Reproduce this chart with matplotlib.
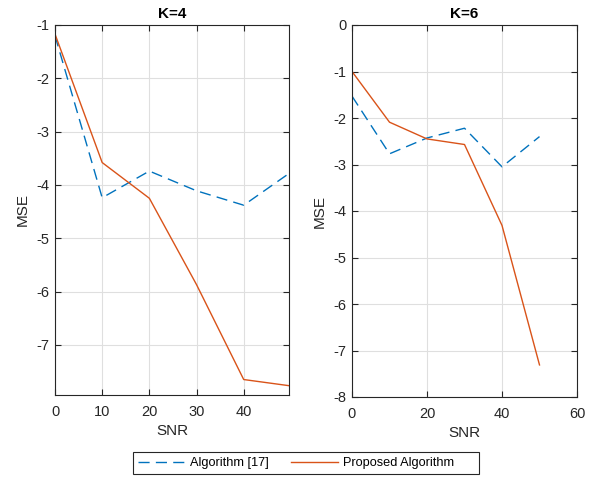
import matplotlib
matplotlib.use("Agg")
import matplotlib.pyplot as plt
from matplotlib.lines import Line2D
from matplotlib.patches import Rectangle

plt.rcParams['font.family'] = ['Liberation Sans', 'DejaVu Sans']

snr = [0, 10, 20, 30, 40, 50]
k4_alg17 = [-1.20, -4.24, -3.74, -4.11, -4.38, -3.76]
k4_prop = [-1.17, -3.58, -4.25, -5.87, -7.65, -7.77]
k6_alg17 = [-1.53, -2.77, -2.43, -2.22, -3.05, -2.40]
k6_prop = [-1.00, -2.09, -2.45, -2.57, -4.31, -7.31]

titles = ["K=4", "K=6"]
labels = ["Algorithm [17]", "Proposed Algorithm"]
blue = "#0072BD"
orange = "#D95319"
axcol = "#262626"
dash = (8, 4.5)

fig = plt.figure(figsize=(5.97, 4.80), dpi=100)
ax1 = fig.add_axes([55/597, 1-395/480, 234/597, 370/480])
ax2 = fig.add_axes([352/597, 1-397/480, 225/597, 372/480])

def style(ax, title, xticks, xlim, yticks, ylim, ytl):
    ax.set_xlim(*xlim)
    ax.set_ylim(*ylim)
    ax.set_xticks(xticks)
    ax.set_yticks(yticks)
    ax.set_yticklabels(ytl)
    ax.grid(True, color="#DFDFDF", linewidth=0.8)
    ax.set_axisbelow(True)
    ax.tick_params(direction="in", top=True, right=True, length=4, width=0.8,
                   colors=axcol, labelsize=10.5, labelcolor=axcol)
    ax.tick_params(axis="x", pad=7)
    ax.tick_params(axis="y", pad=4)
    for s in ax.spines.values():
        s.set_color(axcol)
        s.set_linewidth(0.8)
    ax.set_title(title, fontsize=11, fontweight="bold", pad=5)
    ax.set_xlabel("SNR", fontsize=11, color=axcol, labelpad=4)
    ax.set_ylabel("MSE", fontsize=11, color=axcol, labelpad=5)

ax1.plot(snr, k4_alg17, color=blue, lw=1.0, dashes=dash, label=labels[0])
ax1.plot(snr, k4_prop, color=orange, lw=1.0, label=labels[1])
style(ax1, titles[0], [0, 10, 20, 30, 40], (0, 49.6),
      [-7, -6, -5, -4, -3, -2, -1], (-7.94, -1.0),
      ["-7", "-6", "-5", "-4", "-3", "-2", "-1"])

ax2.plot(snr, k6_alg17, color=blue, lw=1.0, dashes=dash, label=labels[0])
ax2.plot(snr, k6_prop, color=orange, lw=1.0, label=labels[1])
style(ax2, titles[1], [0, 20, 40, 60], (0, 60),
      [-8, -7, -6, -5, -4, -3, -2, -1, 0], (-8, 0),
      ["-8", "-7", "-6", "-5", "-4", "-3", "-2", "-1", "0"])

# legend frame (MATLAB-style, with extra trailing space)
fig.add_artist(Rectangle((133/597, 1-474/480), 346/597, 22/480,
                         transform=fig.transFigure, facecolor="white",
                         edgecolor=axcol, linewidth=0.8, zorder=5))
handles = [Line2D([], [], color=blue, lw=1.0, dashes=dash),
           Line2D([], [], color=orange, lw=1.0)]
leg = fig.legend(handles, labels, ncol=2, loc="center left",
                 bbox_to_anchor=(138/597, 1-463/480), frameon=False,
                 fontsize=9.2, handlelength=3.7, handletextpad=0.35,
                 columnspacing=1.75, borderpad=0, borderaxespad=0)
leg.set_zorder(6)

fig.savefig("out.png", dpi=100)
